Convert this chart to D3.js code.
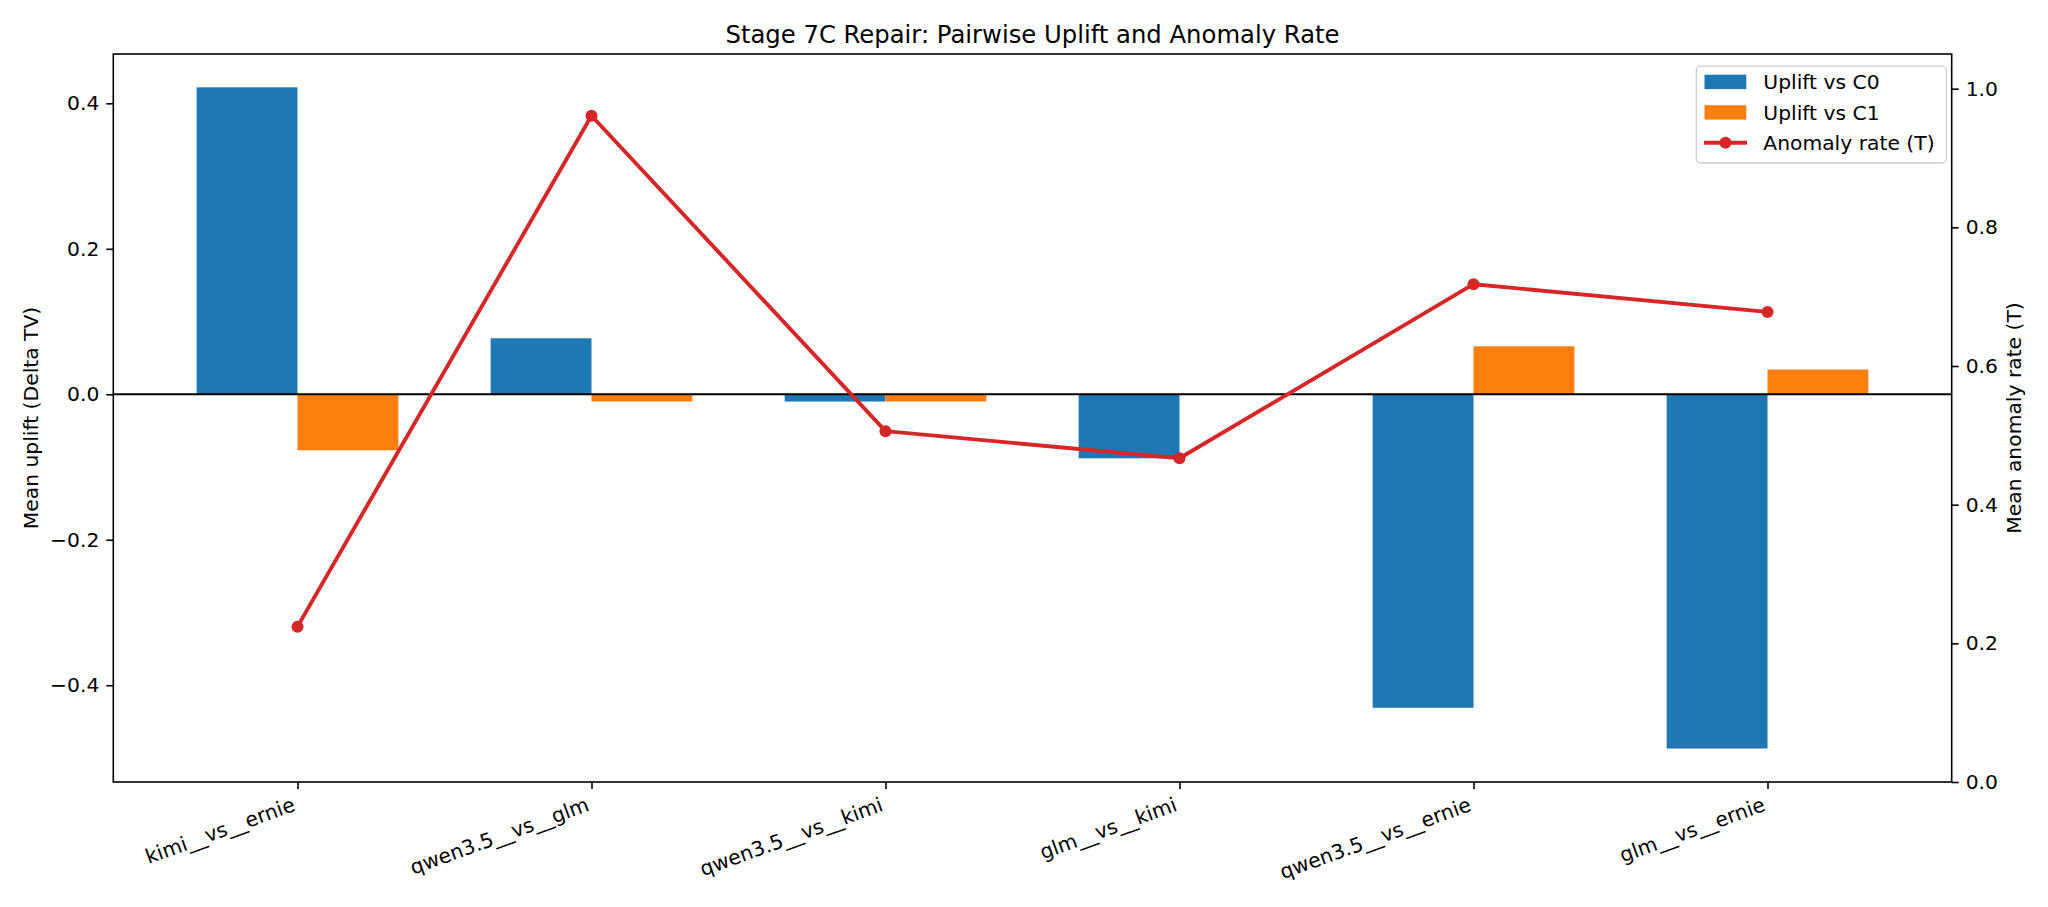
<!DOCTYPE html>
<html>
<head>
<meta charset="utf-8">
<script src="https://cdn.jsdelivr.net/npm/d3@7"></script>
<style>
  html, body { margin: 0; padding: 0; background: #fff; }
  svg text { font-family: "DejaVu Sans", sans-serif; fill: #000; }
</style>
</head>
<body>
<svg id="chart" width="2048" height="907"></svg>
<script>
// ---- data ----
const categories = ["kimi__vs__ernie", "qwen3.5__vs__glm", "qwen3.5__vs__kimi", "glm__vs__kimi", "qwen3.5__vs__ernie", "glm__vs__ernie"];
const upliftC0 = [0.422, 0.077, -0.010, -0.088, -0.431, -0.487];
const upliftC1 = [-0.077, -0.010, -0.010, 0.000, 0.066, 0.034];
const anomalyRate = [0.224, 0.961, 0.506, 0.467, 0.718, 0.678];
const leftTicks = [-0.4, -0.2, 0.0, 0.2, 0.4];
const rightTicks = [0.0, 0.2, 0.4, 0.6, 0.8, 1.0];
const seriesNames = ["Uplift vs C0", "Uplift vs C1", "Anomaly rate (T)"];
const titleText = "Stage 7C Repair: Pairwise Uplift and Anomaly Rate";
const leftLabel = "Mean uplift (Delta TV)";
const rightLabel = "Mean anomaly rate (T)";

// ---- layout ----
const L = 113.3, R = 1951.7, T = 54, B = 782;
const colors = { c0: "#1f77b4", c1: "#ff7f0e", line: "#d62728" };
const fs = 20.3;
const barW = 0.343;

const svg = d3.select("#chart");
const x = d3.scaleLinear().domain([-0.6265, 5.6265]).range([L, R]);
const yL = d3.scaleLinear().domain([-0.533, 0.4678]).range([B, T]);
const yR = d3.scaleLinear().domain([0, 1.05]).range([B, T]);
const fmt = v => d3.format(".1f")(v).replace("-", "\u2212");

// bars
const g = svg.append("g");
g.selectAll("rect.c0").data(upliftC0).join("rect")
  .attr("x", (d, i) => x(i - barW))
  .attr("width", x(barW) - x(0))
  .attr("y", d => yL(Math.max(0, d)))
  .attr("height", d => Math.abs(yL(d) - yL(0)))
  .attr("fill", colors.c0);
g.selectAll("rect.c1").data(upliftC1).join("rect")
  .attr("x", (d, i) => x(i))
  .attr("width", x(barW) - x(0))
  .attr("y", d => yL(Math.max(0, d)))
  .attr("height", d => Math.abs(yL(d) - yL(0)))
  .attr("fill", colors.c1);

// zero line
svg.append("line").attr("x1", L).attr("x2", R).attr("y1", yL(0)).attr("y2", yL(0))
  .attr("stroke", "#000").attr("stroke-width", 1.9);

// anomaly line
const line = d3.line().x((d, i) => x(i)).y(d => yR(d));
svg.append("path").datum(anomalyRate).attr("d", line)
  .attr("fill", "none").attr("stroke", colors.line).attr("stroke-width", 3.9)
  .attr("stroke-linejoin", "round").attr("stroke-linecap", "square");
svg.selectAll("circle.pt").data(anomalyRate).join("circle")
  .attr("cx", (d, i) => x(i)).attr("cy", d => yR(d)).attr("r", 6)
  .attr("fill", colors.line);

// axes
const tickLen = 7.0, tickPad = 7.0;
const axL = svg.append("g").attr("transform", `translate(${L},0)`)
  .call(d3.axisLeft(yL).tickValues(leftTicks).tickFormat(fmt).tickSize(tickLen).tickPadding(tickPad));
const axR = svg.append("g").attr("transform", `translate(${R},0)`)
  .call(d3.axisRight(yR).tickValues(rightTicks).tickFormat(fmt).tickSize(tickLen).tickPadding(tickPad));
const axB = svg.append("g").attr("transform", `translate(0,${B})`)
  .call(d3.axisBottom(x).tickValues(d3.range(categories.length)).tickFormat(i => categories[i]).tickSize(tickLen).tickPadding(0));
[axL, axR, axB].forEach(a => {
  a.select(".domain").remove();
  a.selectAll("line").attr("stroke", "#000").attr("stroke-width", 1.6);
  a.selectAll("text").style("font-size", fs + "px").attr("fill", "#000");
});
axB.selectAll("text")
  .attr("text-anchor", "end")
  .attr("dy", null)
  .attr("y", null)
  .attr("transform", `translate(-1.6,${tickLen + tickPad + 14.3}) rotate(-20)`);

// spines
svg.append("rect").attr("x", L).attr("y", T).attr("width", R - L).attr("height", B - T)
  .attr("fill", "none").attr("stroke", "#000").attr("stroke-width", 1.6);

// title and axis labels
svg.append("text").attr("x", (L + R) / 2).attr("y", 42.5).attr("text-anchor", "middle")
  .style("font-size", "24.3px").text(titleText);
svg.append("text").attr("transform", `translate(38.4,${(T + B) / 2}) rotate(-90)`)
  .attr("text-anchor", "middle").style("font-size", fs + "px").text(leftLabel);
svg.append("text").attr("transform", `translate(2021,${(T + B) / 2}) rotate(-90)`)
  .attr("text-anchor", "middle").style("font-size", fs + "px").text(rightLabel);

// legend
const lg = svg.append("g");
lg.append("rect").attr("x", 1696.3).attr("y", 66.2).attr("width", 250).attr("height", 96.8)
  .attr("rx", 4).attr("fill", "#fff").attr("fill-opacity", 0.8)
  .attr("stroke", "#cccccc").attr("stroke-width", 1.3);
const rowY = [81.9, 112.4, 142.8];
seriesNames.forEach((name, i) => {
  const cy = rowY[i];
  if (i < 2) {
    lg.append("rect").attr("x", 1704.5).attr("y", cy - 7.2).attr("width", 41.8).attr("height", 14.4)
      .attr("fill", i === 0 ? colors.c0 : colors.c1);
  } else {
    lg.append("line").attr("x1", 1704).attr("x2", 1747).attr("y1", cy).attr("y2", cy)
      .attr("stroke", colors.line).attr("stroke-width", 3.9);
    lg.append("circle").attr("cx", 1725.5).attr("cy", cy).attr("r", 6).attr("fill", colors.line);
  }
  lg.append("text").attr("x", 1763.3).attr("y", cy).attr("dy", "0.36em")
    .style("font-size", fs + "px").text(name);
});
</script>
</body>
</html>
